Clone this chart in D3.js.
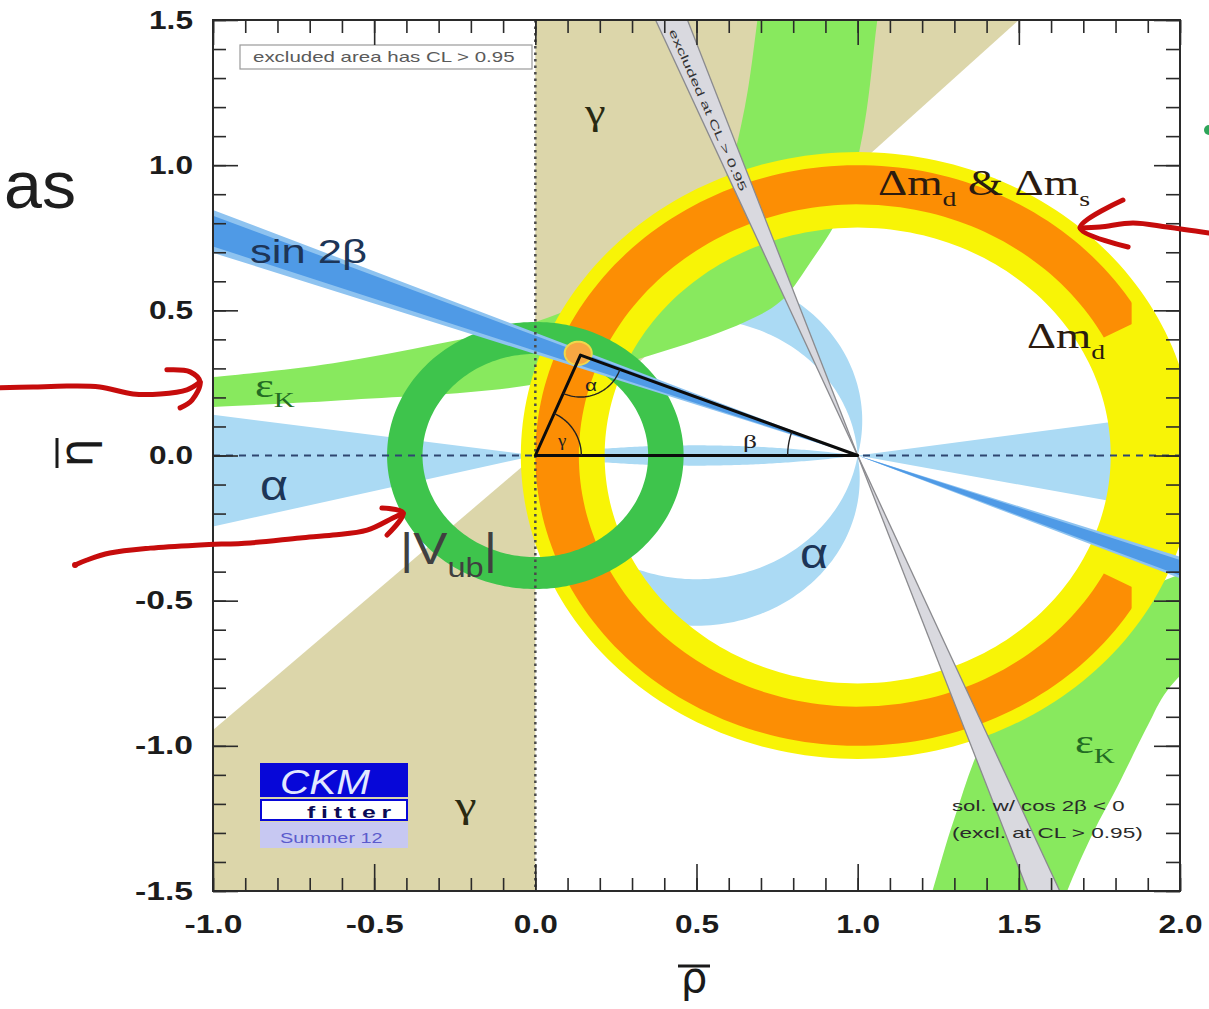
<!DOCTYPE html>
<html>
<head>
<meta charset="utf-8">
<title>CKM unitarity triangle constraints</title>
<script src="https://cdn.jsdelivr.net/npm/d3@7"></script>
<style>
  html, body { margin: 0; padding: 0; background: #ffffff; }
  svg { display: block; }
</style>
</head>
<body>
<svg id="chart" width="1209" height="1009"></svg>
<script>
// ---------- axis ticks ----------
const rhoTicks = [-1.0, -0.5, 0.0, 0.5, 1.0, 1.5, 2.0];
const rhoTickLabels = ["-1.0", "-0.5", "0.0", "0.5", "1.0", "1.5", "2.0"];
const etaTicks = [-1.5, -1.0, -0.5, 0.0, 0.5, 1.0, 1.5];
const etaTickLabels = ["-1.5", "-1.0", "-0.5", "0.0", "0.5", "1.0", "1.5"];

// ---------- unitarity triangle and global fit ----------
const triangleApex = [0.14, 0.346];
const fitCentre = [0.133, 0.352];
const fitHalfWidth = [0.042, 0.040];

// ---------- constraints (rho, eta plane) ----------
const gammaUpperDeg = [45.0, 90.0];
const gammaLowerDeg = [223.4, 270.0];
const vubRadius = [0.35, 0.46];            // ring around (0,0)
const dmdRadius = [0.785, 1.045];          // ring around (1,0)
const dmdDmsRadius = [0.865, 1.0];         // ring around (1,0)
const dmdDmsAngleDeg = [28, 332];          // angular extent of the scan
const dmdDmsRhoMax = 1.85;
const sin2betaTanOuter = [0.349, 0.423];   // tan(beta) through (1,0)
const sin2betaTanInner = [0.360, 0.413];
const cos2betaNegTan = [0.352, 0.418];     // second solution, excluded
const alphaUpperDeg = [76.5, 93.4];
const alphaLowerDeg = [80.9, 99.1];
const alphaNearPiDeg = 172;
const alphaLeftWedge = [[0, 0], [-1.05, 0.147], [-1.05, -0.257]];
const alphaRightWedge = [[1, 0], [2.05, 0.154], [2.05, -0.21]];

const epsKUpperTop = [[-1.1, 0.262], [-1.0, 0.27], [-0.627, 0.318], [-0.3, 0.385], [0.0, 0.46],
  [0.3, 0.61], [0.5, 0.8], [0.596, 0.972], [0.65, 1.2], [0.689, 1.5], [0.70, 1.6]];
const epsKUpperBottom = [[-1.1, 0.16], [-1.0, 0.167], [-0.6, 0.19], [0.0, 0.245], [0.4, 0.36],
  [0.65, 0.46], [0.76, 0.53], [0.85, 0.66], [0.956, 0.856], [1.018, 1.121], [1.061, 1.5], [1.075, 1.6]];
const epsKLowerInner = [[1.2, -1.62], [1.232, -1.5], [1.3, -1.25], [1.402, -0.956], [1.6, -0.68],
  [1.8, -0.51], [2.0, -0.41], [2.1, -0.38]];
const epsKLowerOuter = [[1.62, -1.6], [1.65, -1.5], [1.73, -1.3], [1.806, -1.14], [1.9, -0.93],
  [1.96, -0.81], [2.1, -0.65]];

// ---------- hand-drawn annotations ----------
const arrowEpsKLine = [[-1.661, 0.233], [-1.558, 0.236], [-1.453, 0.239], [-1.351, 0.236], [-1.248, 0.212],
  [-1.164, 0.212], [-1.081, 0.226], [-1.040, 0.253]];
const arrowEpsKHead = [[-1.143, 0.295], [-1.071, 0.288], [-1.040, 0.253], [-1.065, 0.191], [-1.102, 0.164]];
const arrowVubLine = [[-1.428, -0.377], [-1.391, -0.360], [-1.320, -0.336], [-1.195, -0.319], [-1.040, -0.308],
  [-0.885, -0.301], [-0.730, -0.284], [-0.628, -0.274], [-0.522, -0.257], [-0.442, -0.215], [-0.410, -0.198]];
const arrowVubHead = [[-0.476, -0.181], [-0.410, -0.198], [-0.460, -0.274]];
const arrowDmLine = [[2.09, 0.766], [1.96, 0.787], [1.854, 0.801], [1.752, 0.787], [1.690, 0.784]];
const arrowDmHead = [[1.823, 0.880], [1.690, 0.784], [1.839, 0.718]];
const greenDot = [2.09, 1.121];

// ---------- setup ----------
const SANS = "'Liberation Sans', Arial, Helvetica, sans-serif";
const SERIF = "'Liberation Serif', 'Times New Roman', serif";
const svg = d3.select("#chart");
const x = d3.scaleLinear().domain([-1, 2]).range([213, 1180]);
const y = d3.scaleLinear().domain([-1.5, 1.5]).range([891, 20]);

const open = d3.line().x(d => x(d[0])).y(d => y(d[1]));
const closed = d3.line().x(d => x(d[0])).y(d => y(d[1])).curve(d3.curveLinearClosed);
const smooth = d3.line().x(d => x(d[0])).y(d => y(d[1])).curve(d3.curveCatmullRom.alpha(0.5));

const rad = d => d * Math.PI / 180;
function circlePts(cx, cy, r, n = 240) {
  return d3.range(n).map(i => { const t = 2 * Math.PI * i / n; return [cx + r * Math.cos(t), cy + r * Math.sin(t)]; });
}
function ringPath(c, radii) {
  return closed(circlePts(c[0], c[1], radii[1])) + closed(circlePts(c[0], c[1], radii[0]));
}
function sectorPts(c, radii, angles, n = 200) {
  const a0 = rad(angles[0]), a1 = rad(angles[1]);
  const arc = r => d3.range(n + 1).map(i => { const t = a0 + (a1 - a0) * i / n; return [c[0] + r * Math.cos(t), c[1] + r * Math.sin(t)]; });
  return arc(radii[1]).concat(arc(radii[0]).reverse());
}
function bandPath(edgeA, edgeB) {
  const a = smooth(edgeA), b = smooth(edgeB.slice().reverse());
  return a + "L" + b.slice(1) + "Z";
}
// arcs of circles through (0,0) and (1,0): fixed angle alpha at the apex
function arcAbove(c, n = 120) {      // from (1,0) over the top to (0,0)
  const R = Math.hypot(0.5, c), t0 = Math.asin(-c / R);
  return d3.range(n + 1).map(i => { const t = t0 + (Math.PI - 2 * t0) * i / n; return [0.5 + R * Math.cos(t), c + R * Math.sin(t)]; });
}
function arcBelow(c, n = 120) {      // from (0,0) under the axis to (1,0)
  const R = Math.hypot(0.5, c), t0 = Math.asin(-c / R), a = Math.PI - t0, b = 2 * Math.PI + t0;
  return d3.range(n + 1).map(i => { const t = a + (b - a) * i / n; return [0.5 + R * Math.cos(t), c + R * Math.sin(t)]; });
}
const cUp = a => 0.5 / Math.tan(rad(a));
const cDown = a => -0.5 / Math.tan(rad(a));
function wedge(range, L = 3) {
  const a = rad(range[0]), m = rad((range[0] + range[1]) / 2), b = rad(range[1]);
  return [[0, 0], [L * Math.cos(a), L * Math.sin(a)], [L * Math.cos(m), L * Math.sin(m)], [L * Math.cos(b), L * Math.sin(b)]];
}
function lineBand(tans, r0 = -1.2, r1 = 2.2) {   // eta = t (1 - rho)
  return [[r0, tans[0] * (1 - r0)], [r0, tans[1] * (1 - r0)], [r1, tans[1] * (1 - r1)], [r1, tans[0] * (1 - r1)]];
}
function steepBand(tans, e = 1.7) {              // rho = 1 - eta t
  return [[1 - e * tans[0], e], [1 - e * tans[1], e], [1 + e * tans[1], -e], [1 + e * tans[0], -e]];
}

const defs = svg.append("defs");
defs.append("clipPath").attr("id", "plotClip").append("rect")
  .attr("x", x(-1)).attr("y", y(1.5)).attr("width", x(2) - x(-1)).attr("height", y(-1.5) - y(1.5));
defs.append("clipPath").attr("id", "dmsClip").append("rect")
  .attr("x", x(-1)).attr("y", y(1.5)).attr("width", x(dmdDmsRhoMax) - x(-1)).attr("height", y(-1.5) - y(1.5));

svg.append("rect").attr("width", 1209).attr("height", 1009).attr("fill", "#ffffff");

const plot = svg.append("g").attr("clip-path", "url(#plotClip)");

// gamma
plot.append("path").attr("d", closed(wedge(gammaUpperDeg))).attr("fill", "#dcd6aa");
plot.append("path").attr("d", closed(wedge(gammaLowerDeg))).attr("fill", "#dcd6aa");

// alpha
const alphaFill = "#abdaf4";
plot.append("path").attr("d", closed(alphaLeftWedge)).attr("fill", alphaFill);
plot.append("path").attr("d", closed(alphaRightWedge)).attr("fill", alphaFill);
plot.append("path").attr("d", closed(arcAbove(cUp(alphaNearPiDeg)).concat(arcBelow(cDown(alphaNearPiDeg))))).attr("fill", alphaFill);
plot.append("path").attr("d", closed(arcAbove(cUp(alphaUpperDeg[0])).concat(arcAbove(cUp(alphaUpperDeg[1])).reverse()))).attr("fill", alphaFill);
plot.append("path").attr("d", closed(arcBelow(cDown(alphaLowerDeg[0])).concat(arcBelow(cDown(alphaLowerDeg[1])).reverse()))).attr("fill", alphaFill);

// epsilon_K
plot.append("path").attr("d", bandPath(epsKUpperTop, epsKUpperBottom)).attr("fill", "#88e95e");
plot.append("path").attr("d", bandPath(epsKLowerInner, epsKLowerOuter)).attr("fill", "#88e95e");

// Delta m_d, Delta m_d & Delta m_s
plot.append("path").attr("d", ringPath([1, 0], dmdRadius)).attr("fill", "#f8f406").attr("fill-rule", "evenodd");
plot.append("g").attr("clip-path", "url(#dmsClip)")
  .append("path").attr("d", closed(sectorPts([1, 0], dmdDmsRadius, dmdDmsAngleDeg))).attr("fill", "#fc8e04");

// |Vub|
plot.append("path").attr("d", ringPath([0, 0], vubRadius)).attr("fill", "#3ec44c").attr("fill-rule", "evenodd");

// sin 2beta
plot.append("path").attr("d", closed(lineBand(sin2betaTanOuter))).attr("fill", "#8ec3f0");
plot.append("path").attr("d", closed(lineBand(sin2betaTanInner))).attr("fill", "#4f9ae6");

// cos 2beta < 0 solution (excluded)
plot.append("path").attr("d", closed(steepBand(cos2betaNegTan))).attr("fill", "#d9d9df");
cos2betaNegTan.forEach(t => {
  plot.append("path").attr("d", open([[1 - 1.7 * t, 1.7], [1 + 1.7 * t, -1.7]]))
    .attr("stroke", "#8a8a8e").attr("stroke-width", 1.3).attr("fill", "none");
});

// global fit region
plot.append("path")
  .attr("d", closed(d3.range(120).map(i => { const t = 2 * Math.PI * i / 120; return [fitCentre[0] + fitHalfWidth[0] * Math.cos(t), fitCentre[1] + fitHalfWidth[1] * Math.sin(t)]; })))
  .attr("fill", "#f7a742").attr("stroke", "#efd84a").attr("stroke-width", 2);

// reference lines
plot.append("path").attr("d", open([[-1, 0], [2, 0]]))
  .attr("stroke", "#2f4670").attr("stroke-width", 2).attr("stroke-dasharray", "7,6").attr("fill", "none");
plot.append("path").attr("d", open([[0, 1.5], [0, -1.5]]))
  .attr("stroke", "#4a4a4a").attr("stroke-width", 2.5).attr("stroke-dasharray", "2.5,4").attr("fill", "none");

// unitarity triangle
const tri = [[0, 0], triangleApex, [1, 0]];
plot.append("path").attr("d", closed(tri)).attr("fill", "none").attr("stroke", "#0c0c0c")
  .attr("stroke-width", 3).attr("stroke-linejoin", "round");
function pxArc(vertex, toA, toB, r) {
  const cx = x(vertex[0]), cy = y(vertex[1]);
  let a0 = Math.atan2(y(toA[1]) - cy, x(toA[0]) - cx);
  let a1 = Math.atan2(y(toB[1]) - cy, x(toB[0]) - cx);
  if (a1 < a0) a1 += 2 * Math.PI;
  const pts = d3.range(41).map(i => { const t = a0 + (a1 - a0) * i / 40; return [cx + r * Math.cos(t), cy + r * Math.sin(t)]; });
  return d3.line()(pts);
}
const arcStyle = s => s.attr("fill", "none").attr("stroke", "#222").attr("stroke-width", 1.4);
plot.append("path").attr("d", pxArc([0, 0], triangleApex, [1, 0], 46)).call(arcStyle);
plot.append("path").attr("d", pxArc(triangleApex, [1, 0], [0, 0], 42)).call(arcStyle);
plot.append("path").attr("d", pxArc([1, 0], [0, 0], triangleApex, 70)).call(arcStyle);

// ---------- labels ----------
function label(o) {
  const t = svg.append("text")
    .attr("font-family", o.family || SANS).attr("font-size", o.size)
    .attr("font-weight", o.weight || "normal").attr("font-style", o.style || "normal")
    .attr("fill", o.color || "#222");
  if (o.spacing) t.attr("letter-spacing", o.spacing);
  let off = 0;
  o.parts.forEach(p => {
    const target = p.sub ? o.size * 0.3 : 0;
    const s = t.append("tspan").text(p.t).attr("dy", target - off);
    off = target;
    if (p.sub) s.attr("font-size", o.subSize || o.size * 0.6);
  });
  const w = t.node().getBBox().width;
  const sx = o.width && w > 0 ? o.width / w : 1;
  t.attr("transform", `translate(${o.x},${o.y}) scale(${sx},1)`);
  return t;
}
const txt = s => [{ t: s }];

// box in the upper left
svg.append("rect").attr("x", 240).attr("y", 45).attr("width", 292).attr("height", 24)
  .attr("fill", "#ffffff").attr("stroke", "#9a9a9a").attr("stroke-width", 1.2);
label({ x: 253, y: 62, size: 14, parts: txt("excluded area has CL > 0.95"), color: "#5a5a5a", width: 262 });

label({ x: 585, y: 124, size: 36, family: SERIF, parts: txt("γ"), color: "#2a2a12", width: 22 });
label({ x: 455, y: 817, size: 36, family: SERIF, parts: txt("γ"), color: "#2a2a12", width: 23 });
label({ x: 250, y: 263, size: 34, parts: txt("sin 2β"), color: "#1d3557", width: 117 });
label({ x: 255, y: 397, size: 34, family: SERIF, parts: [{ t: "ε" }, { t: "K", sub: true }], subSize: 22, color: "#236b23", width: 40 });
label({ x: 260, y: 500, size: 42, parts: txt("α"), color: "#1d3557", width: 28 });
label({ x: 400, y: 564, size: 44, parts: [{ t: "|V" }, { t: "ub", sub: true }, { t: "|" }], subSize: 28, color: "#404040", width: 97 });
label({ x: 800, y: 568, size: 42, parts: txt("α"), color: "#1d3557", width: 28 });
label({ x: 878, y: 195, size: 36, family: SERIF, parts: [{ t: "Δm" }, { t: "d", sub: true }, { t: " & Δm" }, { t: "s", sub: true }], subSize: 22, color: "#2b1b10", width: 212 });
label({ x: 1027, y: 348, size: 36, family: SERIF, parts: [{ t: "Δm" }, { t: "d", sub: true }], subSize: 22, color: "#2b1b10", width: 78 });
label({ x: 1075, y: 753, size: 34, family: SERIF, parts: [{ t: "ε" }, { t: "K", sub: true }], subSize: 22, color: "#236b23", width: 40 });
label({ x: 952, y: 811, size: 14, parts: txt("sol. w/ cos 2β < 0"), color: "#2a2a2a", width: 173 });
label({ x: 952, y: 838, size: 14, parts: txt("(excl. at CL > 0.95)"), color: "#2a2a2a", width: 191 });
label({ x: 585, y: 391, size: 16, parts: txt("α"), color: "#222", width: 12 });
label({ x: 558, y: 446, size: 17, family: SERIF, parts: txt("γ"), color: "#222", width: 10 });
label({ x: 743, y: 448, size: 19, family: SERIF, parts: txt("β"), color: "#222", width: 14 });

// text along the excluded band
svg.append("text").attr("transform", "translate(708,110) rotate(66)")
  .attr("text-anchor", "middle").attr("dy", "0.35em")
  .attr("font-family", SANS).attr("font-size", 11).attr("fill", "#333")
  .attr("textLength", 176).attr("lengthAdjust", "spacingAndGlyphs")
  .text("excluded at CL > 0.95");

// CKMfitter logo
svg.append("rect").attr("x", 260).attr("y", 763).attr("width", 148).attr("height", 34).attr("fill", "#0707d8");
label({ x: 280, y: 794, size: 36, style: "italic", parts: txt("CKM"), color: "#e2e8ff", width: 90 });
svg.append("rect").attr("x", 261).attr("y", 800).attr("width", 146).attr("height", 20)
  .attr("fill", "#ffffff").attr("stroke", "#0707d8").attr("stroke-width", 2);
label({ x: 307, y: 818, size: 17, weight: "bold", spacing: 4, parts: txt("fitter"), color: "#0b0b55", width: 90 });
svg.append("rect").attr("x", 260).attr("y", 822).attr("width", 148).attr("height", 26).attr("fill", "#c7c8f2");
label({ x: 280, y: 843, size: 14, parts: txt("Summer 12"), color: "#5b5bcc", width: 103 });

// ---------- frame and axes ----------
svg.append("rect").attr("x", x(-1)).attr("y", y(1.5)).attr("width", x(2) - x(-1)).attr("height", y(-1.5) - y(1.5))
  .attr("fill", "none").attr("stroke", "#2a2a2a").attr("stroke-width", 2);

function styleAxis(g) {
  g.attr("color", "#2a2a2a").select(".domain").remove();
  g.selectAll(".tick line").attr("stroke-width", 1.6);
}
const axB = svg.append("g").attr("transform", `translate(0,${y(-1.5)})`);
axB.append("g").call(d3.axisBottom(x).tickValues(x.ticks(30)).tickSize(-13).tickFormat("")).call(styleAxis);
axB.append("g").call(d3.axisBottom(x).tickValues(rhoTicks).tickSize(-27).tickPadding(24)
  .tickFormat((d, i) => rhoTickLabels[i])).call(styleAxis);
const axT = svg.append("g").attr("transform", `translate(0,${y(1.5)})`);
axT.append("g").call(d3.axisTop(x).tickValues(x.ticks(30)).tickSize(-13).tickFormat("")).call(styleAxis);
axT.append("g").call(d3.axisTop(x).tickValues(rhoTicks).tickSize(-25).tickFormat("")).call(styleAxis);
const axL = svg.append("g").attr("transform", `translate(${x(-1)},0)`);
axL.append("g").call(d3.axisLeft(y).tickValues(y.ticks(30)).tickSize(-13).tickFormat("")).call(styleAxis);
axL.append("g").call(d3.axisLeft(y).tickValues(etaTicks).tickSize(-25).tickPadding(20)
  .tickFormat((d, i) => etaTickLabels[i])).call(styleAxis);
const axR = svg.append("g").attr("transform", `translate(${x(2)},0)`);
axR.append("g").call(d3.axisRight(y).tickValues(y.ticks(30)).tickSize(-14).tickFormat("")).call(styleAxis);
axR.append("g").call(d3.axisRight(y).tickValues(etaTicks).tickSize(-26).tickFormat("")).call(styleAxis);

svg.selectAll(".tick text")
  .attr("font-family", SANS).attr("font-size", 25).attr("font-weight", "bold").attr("fill", "#1c1c1c")
  .attr("textLength", function () { return this.textContent.length === 4 ? 58 : 44; })
  .attr("lengthAdjust", "spacingAndGlyphs");

// axis titles
svg.append("text").attr("x", 694).attr("y", 992).attr("text-anchor", "middle")
  .attr("font-family", "'DejaVu Sans', sans-serif").attr("font-size", 42).attr("fill", "#1a1a1a").text("ρ");
svg.append("line").attr("x1", 678).attr("x2", 710).attr("y1", 966).attr("y2", 966).attr("stroke", "#1a1a1a").attr("stroke-width", 3);
const etaTitle = svg.append("g").attr("transform", "translate(92,453) rotate(-90)");
etaTitle.append("text").attr("text-anchor", "middle")
  .attr("font-family", "'DejaVu Sans', sans-serif").attr("font-size", 46).attr("fill", "#1a1a1a").text("η");
etaTitle.append("line").attr("x1", -15).attr("x2", 15).attr("y1", -35).attr("y2", -35).attr("stroke", "#1a1a1a").attr("stroke-width", 3);

// ---------- slide annotations ----------
svg.append("text").attr("x", 4).attr("y", 208)
  .attr("font-family", SANS).attr("font-size", 66).attr("fill", "#1e1e1e")
  .attr("textLength", 72).attr("lengthAdjust", "spacingAndGlyphs").text("as");
const red = s => s.attr("fill", "none").attr("stroke", "#c60c0c").attr("stroke-width", 5)
  .attr("stroke-linecap", "round").attr("stroke-linejoin", "round");
[arrowEpsKLine, arrowEpsKHead, arrowVubLine, arrowVubHead, arrowDmLine, arrowDmHead].forEach(a => {
  svg.append("path").attr("d", smooth(a)).call(red);
});
svg.append("circle").attr("cx", x(arrowVubLine[0][0])).attr("cy", y(arrowVubLine[0][1])).attr("r", 3).attr("fill", "#c60c0c");
svg.append("circle").attr("cx", x(greenDot[0])).attr("cy", y(greenDot[1])).attr("r", 5).attr("fill", "#2fa55a");
</script>
</body>
</html>
